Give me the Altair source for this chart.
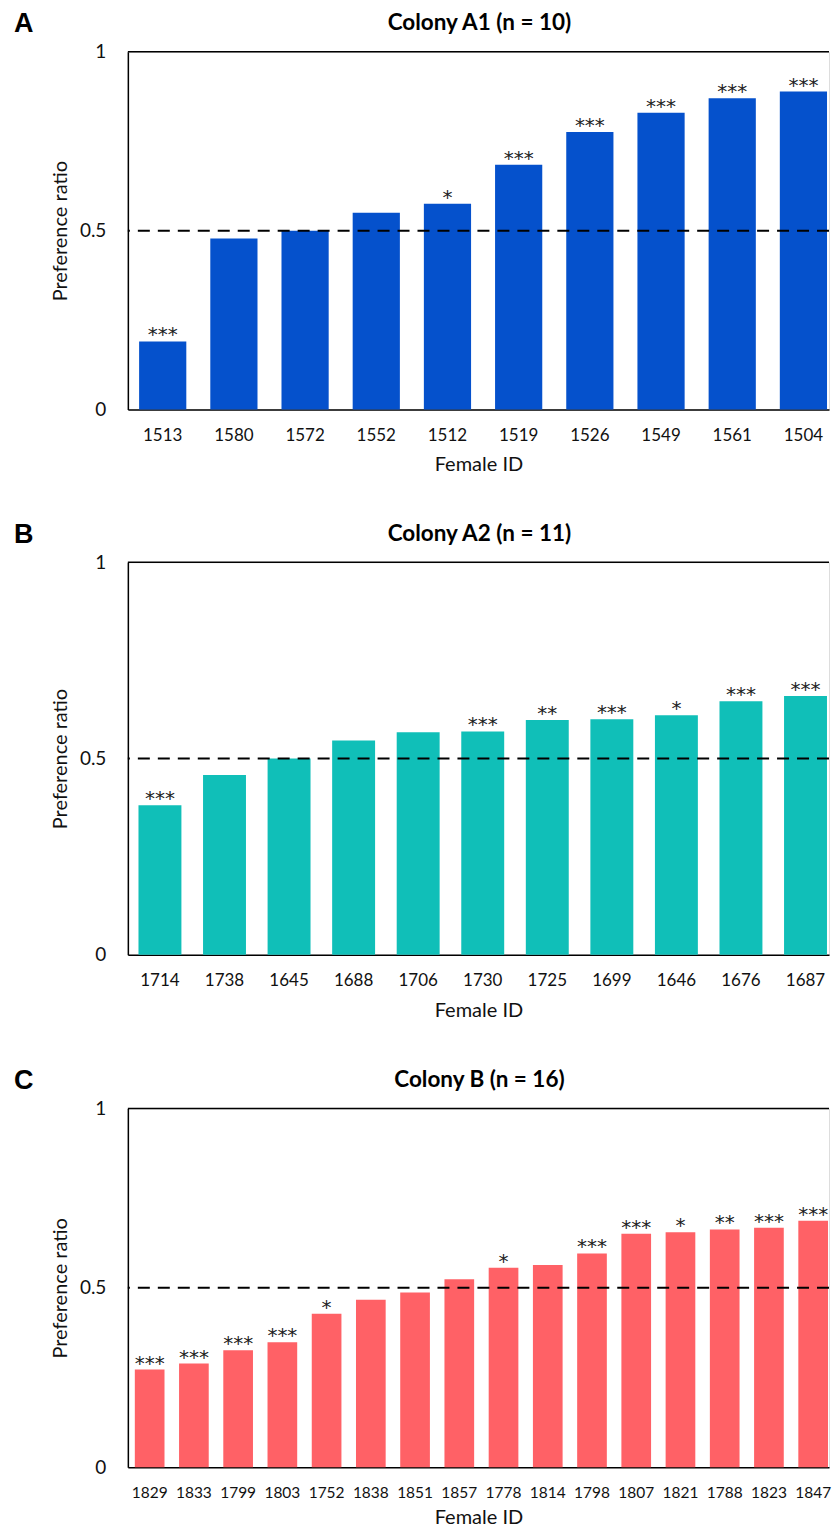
import altair as alt
import pandas as pd

# ---- data ----
A_ids = ["1513", "1580", "1572", "1552", "1512", "1519", "1526", "1549", "1561", "1504"]
A_vals = [0.190, 0.478, 0.500, 0.550, 0.575, 0.684, 0.776, 0.830, 0.870, 0.889]
A_sig = ["***", "", "", "", "*", "***", "***", "***", "***", "***"]

B_ids = ["1714", "1738", "1645", "1688", "1706", "1730", "1725", "1699", "1646", "1676", "1687"]
B_vals = [0.381, 0.458, 0.500, 0.546, 0.567, 0.569, 0.598, 0.600, 0.610, 0.646, 0.659]
B_sig = ["***", "", "", "", "", "***", "**", "***", "*", "***", "***"]

C_ids = ["1829", "1833", "1799", "1803", "1752", "1838", "1851", "1857",
         "1778", "1814", "1798", "1807", "1821", "1788", "1823", "1847"]
C_vals = [0.272, 0.289, 0.326, 0.348, 0.428, 0.467, 0.487, 0.524,
          0.556, 0.564, 0.596, 0.651, 0.655, 0.663, 0.668, 0.687]
C_sig = ["***", "***", "***", "***", "*", "", "", "", "*", "", "***", "***", "*", "**", "***", "***"]

panels = [
    dict(letter="A", title="Colony A1 (n = 10)", ids=A_ids, vals=A_vals, sig=A_sig,
         color="#0551CC", height=358, lsize=17, pi=0.337, po=0.093, align=0.85,
         lpad=31, tY=61),
    dict(letter="B", title="Colony A2 (n = 11)", ids=B_ids, vals=B_vals, sig=B_sig,
         color="#10BFB8", height=393, lsize=17, pi=0.335, po=0.098, align=0.84,
         lpad=31, tY=62),
    dict(letter="C", title="Colony B (n = 16)", ids=C_ids, vals=C_vals, sig=C_sig,
         color="#FF6166", height=359, lsize=15.5, pi=0.329, po=0.090, align=0.875,
         lpad=30, tY=56),
]

W = 702
FONT = "Lato"


def make_panel(p):
    df = pd.DataFrame({"id": p["ids"], "v": p["vals"], "s": p["sig"]})
    x = alt.X(
        "id:N", sort=p["ids"],
        scale=alt.Scale(paddingInner=p["pi"], paddingOuter=p["po"], align=p["align"]),
        axis=alt.Axis(title="Female ID", labelAngle=0, ticks=False, domainColor="black",
                      domainWidth=1.5, labelFont=FONT, labelFontSize=p["lsize"],
                      labelColor="#111111", labelPadding=p["lpad"], labelBaseline="alphabetic",
                      titleFont=FONT, titleFontSize=20, titleFontWeight="normal",
                      titleColor="#111111", titleY=p["tY"], titleBaseline="alphabetic"),
    )
    y = alt.Y(
        "v:Q", scale=alt.Scale(domain=[0, 1], nice=False, zero=True),
        axis=alt.Axis(values=[0, 0.5, 1], format="~g", ticks=False, grid=False,
                      domainColor="black", domainWidth=1.5, labelFont=FONT,
                      labelFontSize=19, labelColor="#111111", labelPadding=22,
                      labelBaseline="middle",
                      title="Preference ratio", titleFont=FONT, titleFontSize=20,
                      titleFontWeight="normal", titleColor="#111111", titleX=-67,
                      titleY=p["height"] / 2, titleAngle=-90, titleAlign="center",
                      titleBaseline="middle"),
    )
    base = alt.Chart(df)
    bars = base.mark_bar(color=p["color"]).encode(x=x, y=y)
    stars = base.mark_text(font="DejaVu Sans", fontSize=20, baseline="alphabetic", dy=0,
                           color="#222222").encode(x=x, y=alt.Y("v:Q"), text="s:N")
    half = alt.Chart(pd.DataFrame({"v": [0.5]})).mark_rule(
        color="black", strokeWidth=2, strokeDash=[12, 8]).encode(y=alt.Y("v:Q"))
    top = alt.Chart(pd.DataFrame({"v": [1.0]})).mark_rule(
        color="black", strokeWidth=1.5).encode(y=alt.Y("v:Q"))
    ttl = alt.Chart(pd.DataFrame({"t": [p["title"]]})).mark_text(
        font=FONT, fontSize=22.5, fontWeight="bold", align="center", baseline="alphabetic",
        color="black").encode(text="t:N", x=alt.value(352), y=alt.value(-21.5))
    let = alt.Chart(pd.DataFrame({"t": [p["letter"]]})).mark_text(
        font="Liberation Sans", fontSize=27, fontWeight="bold", align="left",
        baseline="alphabetic", color="black"
    ).encode(text="t:N", x=alt.value(-114), y=alt.value(-19.5))
    return alt.layer(bars, half, top, stars, ttl, let).properties(width=W, height=p["height"])


chart = alt.vconcat(*[make_panel(p) for p in panels], spacing=45).properties(
    padding={"left": 5, "top": 1, "right": 0, "bottom": 0}
).configure_view(stroke="transparent", strokeWidth=0).configure(font=FONT)

chart.save("out.html", embed_options={"renderer": "svg", "actions": False})
